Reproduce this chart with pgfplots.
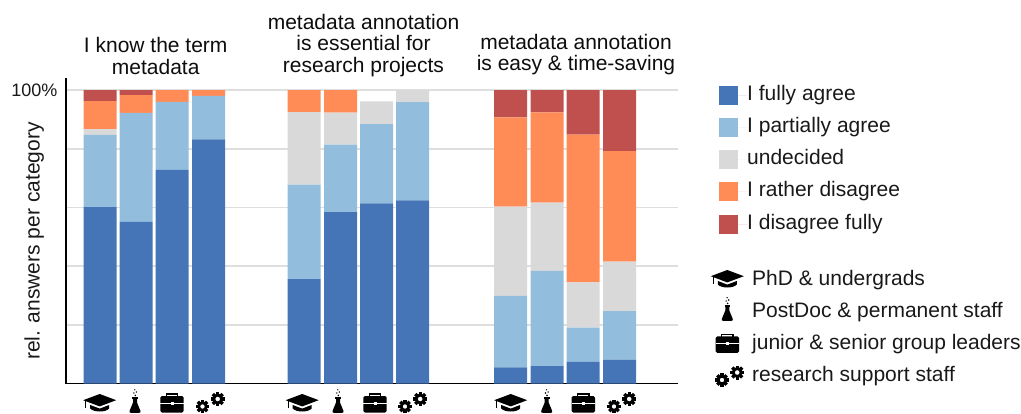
\documentclass[border=0pt]{standalone}
\usepackage{pgfplots}
\usepackage{pgfplotstable}
\usepackage{fontspec}
\setmainfont{Liberation Sans}
\pgfplotsset{compat=1.18}
\definecolor{cA}{HTML}{4575B6}
\definecolor{cB}{HTML}{92BDDC}
\definecolor{cC}{HTML}{D9D9D9}
\definecolor{cD}{HTML}{FF8C57}
\definecolor{cE}{HTML}{BF504E}
\definecolor{gridc}{HTML}{DEDEDE}
\pgfplotstableread{
x     a    b    c    d    e
100   60.1 24.6 2.0  9.55 3.75
136   55.1 37.1 0    6.1  1.7
172   72.8 23.2 0    4.0  0
208.5 83.2 14.8 0    2.0  0
304.2 35.6 32.2 24.7 7.5  0
340.5 58.4 23.0 10.9 7.7  0
376.5 61.4 27.0 7.7  0    0
412.5 62.4 33.5 4.1  0    0
510.7 5.5  24.4 30.4 30.4 9.3
547   5.9  32.5 23.2 30.8 7.6
583.2 7.4  11.6 15.5 50.3 15.2
619.5 8.1  16.6 16.8 37.7 20.8
}\answers
\tikzset{
 hat/.pic={
  \fill[black] (-16.5pt,2.8pt) -- (0pt,9pt) -- (16.5pt,2.8pt) -- (0pt,-3.4pt) -- cycle;
  \fill[black] (-9.5pt,-2pt) -- (0pt,-5.6pt) -- (9.5pt,-2pt) -- (9.5pt,-5.5pt) .. controls (6pt,-9.5pt) and (-6pt,-9.5pt) .. (-9.5pt,-5.5pt) -- cycle;
  \draw[black,line width=0.9pt] (-14.2pt,2pt) -- (-14.2pt,-5pt);
 },
 flask/.pic={
  \fill[black] (-2.8pt,3.8pt) rectangle (2.8pt,2.4pt);
  \fill[black] (-2pt,2.4pt) -- (2pt,2.4pt) -- (2pt,-1.5pt) -- (5.5pt,-10pt) .. controls (6pt,-11.5pt) and (5pt,-11.8pt) .. (4pt,-11.8pt) -- (-4pt,-11.8pt) .. controls (-5pt,-11.8pt) and (-6pt,-11.5pt) .. (-5.5pt,-10pt) -- (-2pt,-1.5pt) -- cycle;
  \fill[black] (0.3pt,5.6pt) circle (0.9pt);
  \fill[black] (-1.2pt,8pt) circle (0.8pt);
  \fill[black] (1.4pt,9pt) circle (0.8pt);
  \fill[black] (-0.2pt,11.2pt) circle (0.7pt);
 },
 case/.pic={
  \draw[black,line width=1.3pt] (-5.6pt,6pt) -- (-5.6pt,8.6pt) -- (5.6pt,8.6pt) -- (5.6pt,6pt);
  \fill[black,rounded corners=1.5pt] (-11.7pt,-9.8pt) rectangle (11.7pt,6.6pt);
  \fill[white] (-11.7pt,-1.4pt) rectangle (11.7pt,-0.3pt);
  \fill[white] (-1.5pt,-2.4pt) rectangle (1.5pt,0.7pt);
 },
 gear/.pic={
  \foreach \a in {0,45,...,315}{
   \fill[black,rotate=\a] (-1.7pt,3.5pt) rectangle (1.7pt,7pt);
  }
  \fill[black,even odd rule] (0,0) circle (5.5pt) (0,0) circle (2.4pt);
 },
 gears/.pic={
  \pic[scale=0.95] at (-6pt,-3.5pt) {gear};
  \pic at (9.2pt,4pt) {gear};
 },
 lab/.style={anchor=west,inner sep=0pt,font=\fontsize{21}{25}\selectfont,text=black!90},
 ttl/.style={align=center,inner sep=0pt,font=\fontsize{21}{21.4}\selectfont,text=black!95},
}
\begin{document}
\begin{tikzpicture}[x=1pt,y=1pt]
\useasboundingbox (0,0) rectangle (1021,413);
\begin{axis}[
 at={(66pt,29.5pt)},anchor=south west,
 scale only axis,width=612pt,height=305.5pt,
 xmin=66,xmax=678,ymin=0,ymax=104.1,
 axis x line=bottom,axis y line=left,
 axis line style={-,black,line width=1.5pt},
 xtick=\empty,
 ytick={0,20,40,60,80,100},
 yticklabels={,,,,,100\%},
 major tick length=0pt,
 ymajorgrids,
 major grid style={gridc,line width=1.8pt},
 /pgf/number format/assume math mode=true,
 y tick label style={font=\fontsize{18}{22}\selectfont,text=black!90,xshift=-5pt},
 ylabel={rel. answers per category},
 ylabel style={font=\fontsize{21}{25}\selectfont,text=black!90,at={(axis description cs:-0.052,0.466)},anchor=center},
 ybar stacked,bar width=33pt,
 legend cell align=left,
 legend image code/.code={\fill[#1] (0pt,-9.5pt) rectangle (19pt,9.5pt);\path (0pt,0pt) -- (28pt,0pt);},
 legend style={at={(axis description cs:1.067,0.977)},anchor=north west,draw=none,fill=none,inner sep=0pt,
   font=\fontsize{21}{25}\selectfont,text=black!90,
   nodes={text height=15pt,text depth=5pt,inner sep=0pt},
   row sep=12.2pt},
]
\addplot[fill=cA,draw=none] table[x=x,y=a]{\answers};
\addplot[fill=cB,draw=none] table[x=x,y=b]{\answers};
\addplot[fill=cC,draw=none] table[x=x,y=c]{\answers};
\addplot[fill=cD,draw=none] table[x=x,y=d]{\answers};
\addplot[fill=cE,draw=none] table[x=x,y=e]{\answers};
\legend{I fully agree,I partially agree,undecided,I rather disagree,I disagree fully}
\end{axis}
\node[ttl] at (155.7,357) {I know the term\\metadata};
\node[ttl] at (363.5,367.5) {metadata annotation\\is essential for\\research projects};
\node[ttl] at (576,358.5) {metadata annotation\\is easy \& time-saving};
\foreach \h/\f/\c/\g in {99.7/135/172/208.5,302.2/338/375/411,510.7/546.7/583.3/620}{
 \pic at (\h,10) {hat};
 \pic at (\f,12) {flask};
 \pic at (\c,10.3) {case};
 \pic at (\g,10) {gears};
}
\pic at (727.3,134) {hat};
\pic at (727.3,104) {flask};
\pic at (727.3,70) {case};
\pic at (728,36.5) {gears};
\node[lab] at (752,133) {PhD \& undergrads};
\node[lab] at (752,101) {PostDoc \& permanent staff};
\node[lab] at (752,69) {junior \& senior group leaders};
\node[lab] at (752,37) {research support staff};
\end{tikzpicture}
\end{document}
